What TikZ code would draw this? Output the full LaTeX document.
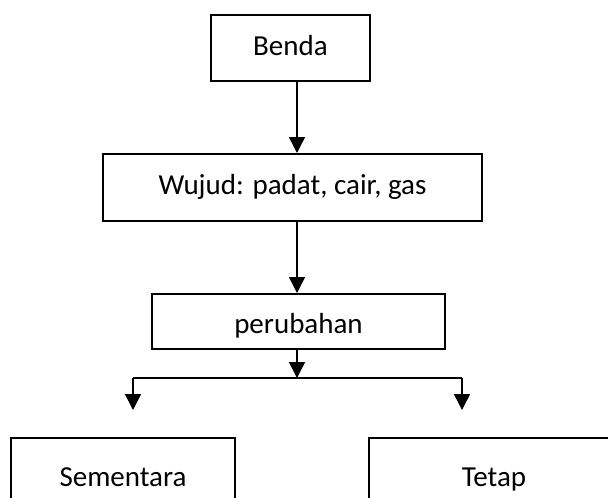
\documentclass[tikz,border=0pt]{standalone}
\usepackage{fontspec}
\setmainfont{Carlito}
\usetikzlibrary{arrows.meta}
\begin{document}
\begin{tikzpicture}[x=1pt,y=-1pt,
  box/.style={draw,line width=2pt,minimum width=#1,inner sep=0pt,text height=20pt,text depth=6pt,font=\fontsize{29}{33}\selectfont},
  arr/.style={line width=1.5pt,-{Triangle[length=16pt,width=16pt]}},
  conn/.style={line width=1.5pt}]
\useasboundingbox (0,0) rectangle (608,498);
\clip (0,0) rectangle (608,498);
\node[box=159pt,minimum height=66pt] (benda) at (290.5,48) {Benda};
\node[box=379pt,minimum height=67pt] (wujud) at (292.5,187.5) {Wujud: padat, cair, gas};
\node[box=293pt,minimum height=55pt,text height=25pt,text depth=2pt] (perubahan) at (298.5,321.5) {perubahan};
\node[box=224pt,minimum height=82pt] (sementara) at (123,479) {Sementara};
\node[box=300pt,minimum height=82pt] (tetap) at (519,479) {\hspace*{-50pt}Tetap};
\coordinate (ax) at (297,0);
\coordinate (split) at (297,378);
\coordinate (left) at (133,378);
\coordinate (right) at (462,378);
\coordinate (lefttip) at (133,410);
\coordinate (righttip) at (462,410);
\draw[arr] (ax |- benda.south) -- (ax |- wujud.north);
\draw[arr] (ax |- wujud.south) -- (ax |- perubahan.north);
\draw[arr] (ax |- perubahan.south) -- (split);
\draw[conn] (left) -- (right);
\draw[arr] (left) -- (lefttip);
\draw[arr] (right) -- (righttip);
\end{tikzpicture}
\end{document}
